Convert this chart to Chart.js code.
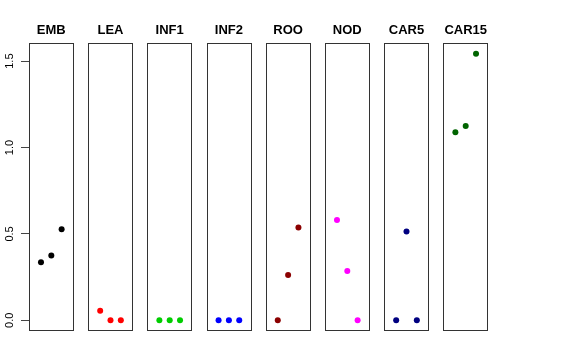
<!DOCTYPE html>
<html>
<head>
<meta charset="utf-8">
<script src="https://cdn.jsdelivr.net/npm/chart.js@4/dist/chart.umd.min.js"></script>
<style>
  html, body { margin: 0; padding: 0; background: #fff; }
  #wrap { position: relative; width: 576px; height: 360px; }
  #wrap canvas { position: absolute; left: 0; top: 0; }
</style>
</head>
<body>
<div id="wrap"></div>
<script>
// ---- data ----
const categories = ['EMB', 'LEA', 'INF1', 'INF2', 'ROO', 'NOD', 'CAR5', 'CAR15'];
const xPositions = [1, 2, 3];
const embValues   = [0.336, 0.375, 0.527];
const leaValues   = [0.056, 0.0, 0.0];
const inf1Values  = [0.0, 0.0, 0.0];
const inf2Values  = [0.0, 0.0, 0.0];
const rooValues   = [0.0, 0.262, 0.537];
const nodValues   = [0.581, 0.286, 0.0];
const car5Values  = [0.0, 0.514, 0.0];
const car15Values = [1.089, 1.124, 1.543];
const yTickValues = [0.0, 0.5, 1.0, 1.5];
const yTickLabels = ['0.0', '0.5', '1.0', '1.5'];

const seriesValues = [embValues, leaValues, inf1Values, inf2Values, rooValues, nodValues, car5Values, car15Values];
const seriesColors = ['#000000', '#FF0000', '#00CD00', '#0000FF', '#8B0000', '#FF00FF', '#000080', '#006400'];

// ---- layout ----
const W = 576, H = 360;
const panelTop = 43, panelBottom = 331;
const panelWidth = 44.6, firstLeft = 29, panelStep = 59.2;
const yMin = -0.0618, yMax = 1.605;

const boxPlugin = {
  id: 'boxAndTitle',
  afterDraw(chart, args, opts) {
    const ctx = chart.ctx, a = chart.chartArea;
    ctx.save();
    ctx.strokeStyle = '#333';
    ctx.lineWidth = 1;
    ctx.strokeRect(Math.round(a.left) + 0.5, Math.round(a.top) + 0.5,
                   Math.round(a.right - a.left) - 1, Math.round(a.bottom - a.top) - 1);
    ctx.fillStyle = '#000';
    ctx.font = 'bold 13px "Liberation Sans", Arial, sans-serif';
    ctx.textAlign = 'center';
    ctx.textBaseline = 'alphabetic';
    ctx.fillText(opts.title, (a.left + a.right) / 2, 33.5);
    if (opts.showY) {
      const ys = chart.scales.y;
      ctx.font = '11px "Liberation Sans", Arial, sans-serif';
      ctx.textAlign = 'center';
      ctx.textBaseline = 'alphabetic';
      yTickValues.forEach((v, i) => {
        const py = ys.getPixelForValue(v);
        ctx.save();
        ctx.translate(12.5, py);
        ctx.rotate(-Math.PI / 2);
        ctx.fillText(yTickLabels[i], 0, 0);
        ctx.restore();
      });
    }
    ctx.restore();
  }
};

const wrap = document.getElementById('wrap');
categories.forEach((cat, i) => {
  const cv = document.createElement('canvas');
  cv.width = W; cv.height = H;
  cv.style.width = W + 'px'; cv.style.height = H + 'px';
  wrap.appendChild(cv);
  const left = firstLeft + i * panelStep;
  const right = W - (left + panelWidth);
  const first = i === 0;
  new Chart(cv.getContext('2d'), {
    type: 'scatter',
    data: {
      datasets: [{
        data: xPositions.map((x, k) => ({ x: x, y: seriesValues[i][k] })),
        backgroundColor: seriesColors[i],
        borderColor: seriesColors[i],
        pointRadius: 3,
        pointBorderWidth: 0,
      }]
    },
    options: {
      responsive: false,
      animation: false,
      devicePixelRatio: 1,
      layout: { padding: { left: first ? 0 : left, right: right, top: panelTop, bottom: H - panelBottom } },
      plugins: {
        legend: { display: false },
        tooltip: { enabled: false },
        title: { display: false },
        boxAndTitle: { title: cat, showY: first }
      },
      scales: {
        x: { type: 'linear', min: -0.16, max: 4.16, display: false },
        y: {
          type: 'linear', min: yMin, max: yMax,
          display: first,
          afterFit(s) { if (first) { s.width = firstLeft; } },
          afterBuildTicks(s) { s.ticks = yTickValues.map(v => ({ value: v })); },
          grid: { drawOnChartArea: false, drawTicks: true, tickLength: 8, color: '#444', lineWidth: 1 },
          border: { display: false },
          ticks: { display: false }
        }
      }
    },
    plugins: [boxPlugin]
  });
});
</script>
</body>
</html>
